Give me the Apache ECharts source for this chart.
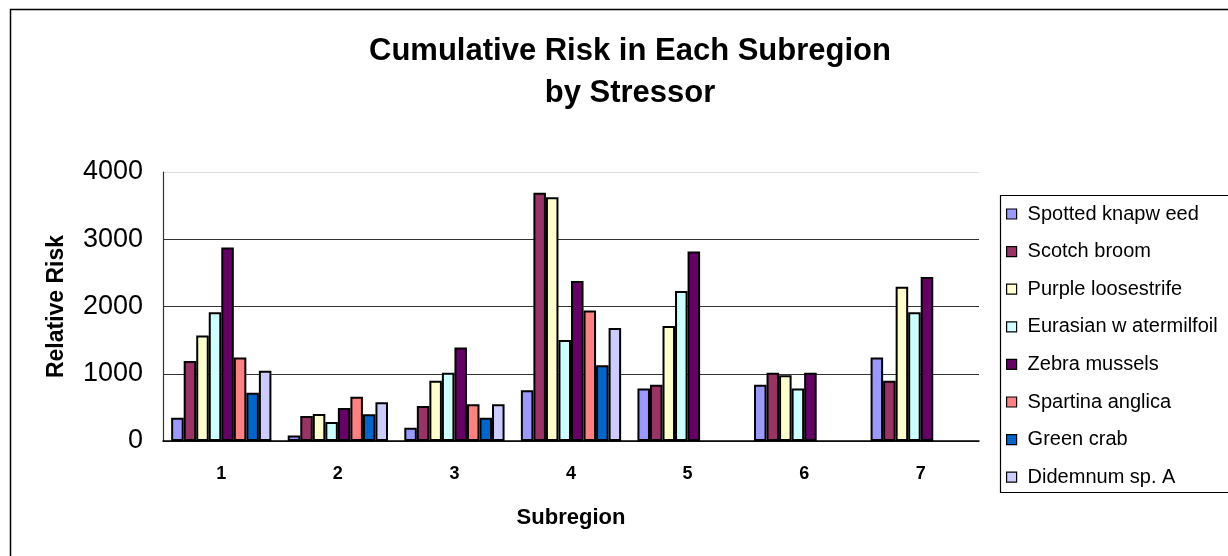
<!DOCTYPE html>
<html>
<head>
<meta charset="utf-8">
<script src="https://cdn.jsdelivr.net/npm/echarts@6/dist/echarts.min.js"></script>
<style>
html,body{margin:0;padding:0;background:#fff;}
#chart{width:1228px;height:556px;}
</style>
</head>
<body>
<div id="chart"></div>
<script>
var subregions = ['1', '2', '3', '4', '5', '6', '7'];
var yTicks = [0, 1000, 2000, 3000, 4000];

var spottedKnapweed     = [347, 80, 198, 754, 779, 838, 1240];
var scotchBroom         = [1190, 372, 521, 3690, 838, 1016, 897];
var purpleLoosestrife   = [1567, 402, 897, 3626, 1711, 977, 2292];
var eurasianWatermilfoil= [1915, 283, 1016, 1503, 2232, 779, 1915];
var zebraMussels        = [2877, 491, 1389, 2381, 2817, 1016, 2440];
var spartinaAnglica     = [1240, 659, 546, 1939, null, null, null];
var greenCrab           = [719, 397, 347, 1126, null, null, null];
var didemnum            = [1046, 576, 546, 1682, null, null, null];

var seriesNames = ['Spotted knapw eed', 'Scotch broom', 'Purple loosestrife', 'Eurasian w atermilfoil',
                   'Zebra mussels', 'Spartina anglica', 'Green crab', 'Didemnum sp. A'];
var seriesData = [spottedKnapweed, scotchBroom, purpleLoosestrife, eurasianWatermilfoil,
                  zebraMussels, spartinaAnglica, greenCrab, didemnum];
var seriesColors = ['#9999FF', '#993366', '#FFFFCC', '#CCFFFF', '#660066', '#FF8080', '#0066CC', '#CCCCFF'];

var chart = echarts.init(document.getElementById('chart'));
var font = 'Liberation Sans, Arial, sans-serif';

var series = seriesNames.map(function (n, i) {
  return {
    name: n,
    type: 'bar',
    data: seriesData[i],
    barGap: '0%',
    barCategoryGap: '14%',
    itemStyle: { color: seriesColors[i], borderColor: '#000', borderWidth: 2 },
    emphasis: { disabled: true }
  };
});

chart.setOption({
  animation: false,
  backgroundColor: '#fff',
  title: {
    text: 'Cumulative Risk in Each Subregion\nby Stressor',
    left: 625, top: 25, textAlign: 'center',
    textStyle: { fontFamily: font, fontWeight: 'bold', fontSize: 31, lineHeight: 42, color: '#000' }
  },
  legend: {
    orient: 'vertical',
    left: 1006, top: 204,
    padding: 0,
    itemWidth: 10, itemHeight: 10,
    itemGap: 17.6,
    icon: 'rect',
    itemStyle: { borderColor: '#000', borderWidth: 1.2 },
    textStyle: { fontFamily: font, fontSize: 20, color: '#000', lineHeight: 20, padding: [0, 0, 0, 6] },
    data: seriesNames
  },
  grid: { left: 163, right: 249, top: 172, bottom: 115, containLabel: false },
  xAxis: {
    type: 'category',
    data: subregions,
    name: 'Subregion',
    nameLocation: 'middle',
    nameGap: 66,
    nameTextStyle: { fontFamily: font, fontWeight: 'bold', fontSize: 22, color: '#000' },
    axisLine: { lineStyle: { color: '#000', width: 1.5 } },
    axisTick: { show: false },
    axisLabel: { fontFamily: font, fontWeight: 'bold', fontSize: 18, color: '#000', margin: 24 }
  },
  yAxis: {
    type: 'value',
    min: yTicks[0], max: yTicks[yTicks.length - 1], interval: 1000,
    name: 'Relative Risk',
    nameLocation: 'middle',
    nameGap: 95,
    nameTextStyle: { fontFamily: font, fontWeight: 'bold', fontSize: 23, color: '#000' },
    axisLine: { show: true, lineStyle: { color: '#333', width: 1.2 } },
    axisTick: { show: false },
    axisLabel: { fontFamily: font, fontSize: 27, color: '#000', margin: 20, formatter: function (v) { return String(v); } },
    splitLine: { show: true, lineStyle: { color: ['#333', '#333', '#333', '#333', '#ddd'], width: 1.2 } }
  },
  graphic: [
    { type: 'rect', shape: { x: 10.5, y: 9.5, width: 1240, height: 570 }, style: { fill: 'none', stroke: '#000', lineWidth: 1.5 }, silent: true },
    { type: 'rect', shape: { x: 1000.5, y: 195.5, width: 240, height: 297 }, style: { fill: 'none', stroke: '#000', lineWidth: 1.2 }, silent: true }
  ],
  series: series
});
</script>
</body>
</html>
